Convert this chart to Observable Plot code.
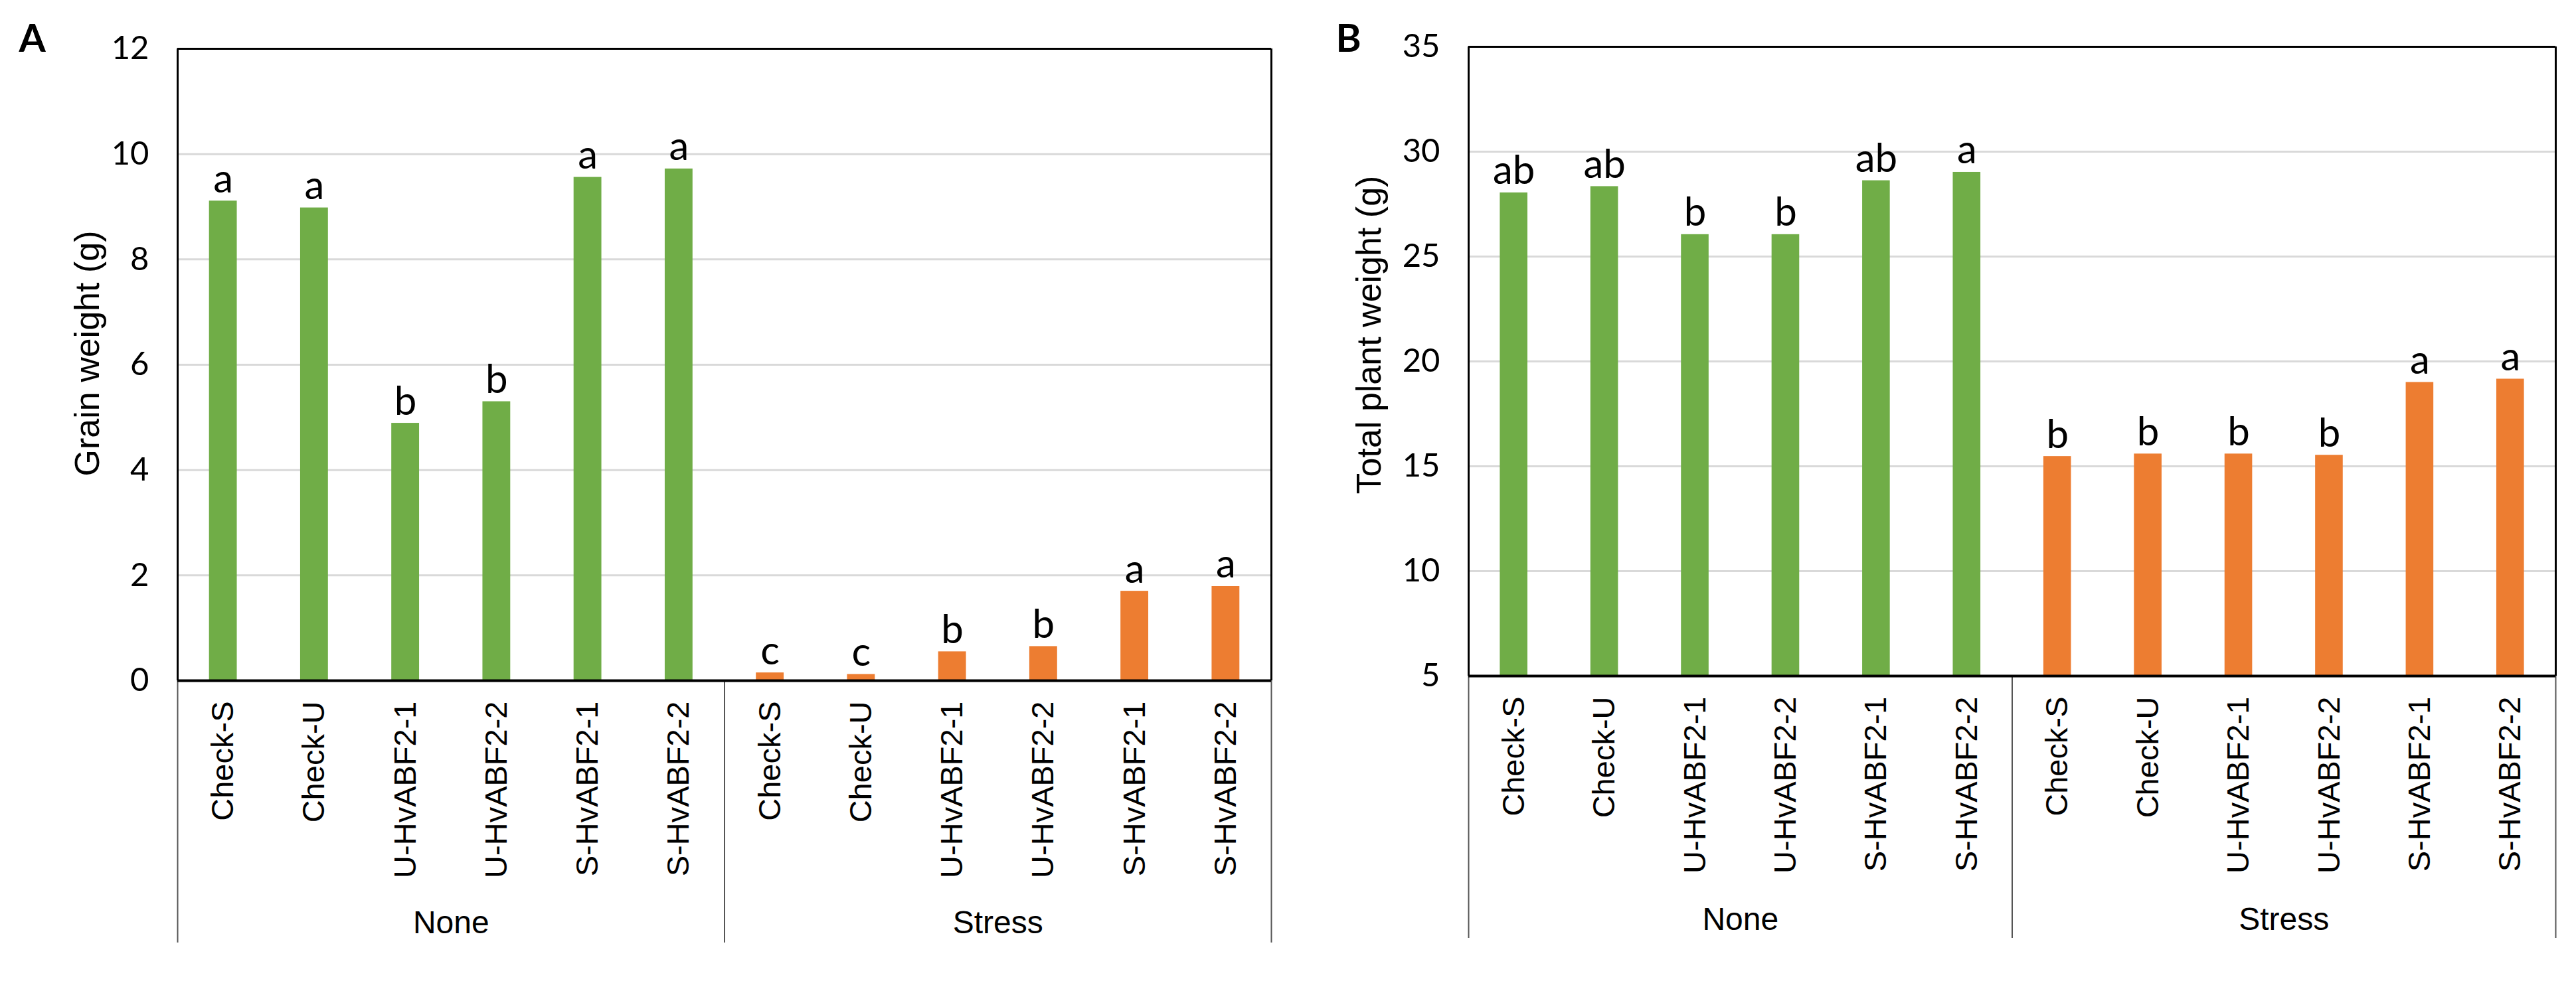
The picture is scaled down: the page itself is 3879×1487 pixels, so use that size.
<!DOCTYPE html>
<html>
<head>
<meta charset="utf-8">
<script src="https://cdn.jsdelivr.net/npm/d3@7"></script>
<script src="https://cdn.jsdelivr.net/npm/@observablehq/plot@0.6"></script>
<style>
  html, body { margin: 0; padding: 0; background: #fff; overflow: hidden; }
  #wrap { display: flex; width: 3879px; height: 1487px; }
  #wrap > div { flex: none; }
</style>
</head>
<body>
<div id="wrap"><div id="chartA"></div><div id="chartB"></div></div>
<script>
// ---- data ----
const genotypes = ["Check-S", "Check-U", "U-HvABF2-1", "U-HvABF2-2", "S-HvABF2-1", "S-HvABF2-2"];
const treatments = ["None", "Stress"];

const grainNone = [9.11, 8.98, 4.89, 5.30, 9.56, 9.72];
const grainStress = [0.15, 0.12, 0.55, 0.65, 1.70, 1.79];
const grainLettersNone = ["a", "a", "b", "b", "a", "a"];
const grainLettersStress = ["c", "c", "b", "b", "a", "a"];

const totalNone = [28.04, 28.34, 26.05, 26.05, 28.62, 29.02];
const totalStress = [15.47, 15.59, 15.59, 15.53, 19.00, 19.16];
const totalLettersNone = ["ab", "ab", "b", "b", "ab", "a"];
const totalLettersStress = ["b", "b", "b", "b", "a", "a"];

const yTicksA = [0, 2, 4, 6, 8, 10, 12];
const yTicksB = [5, 10, 15, 20, 25, 30, 35];

const colors = ["#70AD47", "#ED7D31"];

function buildRows(noneVals, stressVals, noneLetters, stressLetters) {
  const rows = [];
  treatments.forEach((t, ti) => {
    const vals = ti === 0 ? noneVals : stressVals;
    const lets = ti === 0 ? noneLetters : stressLetters;
    genotypes.forEach((g, gi) => {
      rows.push({i: ti * genotypes.length + gi, treatment: t, genotype: g, value: vals[gi], letter: lets[gi]});
    });
  });
  return rows;
}

const rowsA = buildRows(grainNone, grainStress, grainLettersNone, grainLettersStress);
const rowsB = buildRows(totalNone, totalStress, totalLettersNone, totalLettersStress);

const nBands = genotypes.length * treatments.length;
const barFrac = 0.305;

function makeChart(o) {
  const yMin = o.yTicks[0], yMax = o.yTicks[o.yTicks.length - 1];
  const bandCenters = d3.range(nBands).map(i => i + 0.5);
  const groupCenters = treatments.map((t, ti) => ({t, x: ti * genotypes.length + genotypes.length / 2}));
  const groupEdges = d3.range(treatments.length + 1).map(k => k * genotypes.length);
  return Plot.plot({
    width: o.width,
    height: 1487,
    marginLeft: o.marginLeft,
    marginRight: o.marginRight,
    marginTop: o.marginTop,
    marginBottom: o.marginBottom,
    style: {fontFamily: "'Liberation Sans', Arial, sans-serif", fontSize: "47px", background: "#fff", color: "#000"},
    x: {type: "linear", domain: [0, nBands], axis: null},
    y: {domain: [yMin, yMax], axis: null},
    color: {domain: treatments, range: colors},
    marks: [
      Plot.gridY(o.yTicks, {stroke: "#d9d9d9", strokeOpacity: 1, strokeWidth: 3}),
      Plot.rectY(o.rows, {
        x1: d => d.i + (1 - barFrac) / 2,
        x2: d => d.i + (1 + barFrac) / 2,
        y1: yMin,
        y2: "value",
        fill: "treatment"
      }),
      Plot.text(o.rows, {
        x: d => d.i + 0.5, y: "value", text: "letter",
        lineAnchor: "bottom", dy: -13,
        fontSize: 60, fontFamily: "Lato, 'Open Sans', sans-serif", fill: "#000"
      }),
      Plot.axisY(o.yTicks, {
        tickSize: 0, tickPadding: 43, label: null, tickFormat: d => String(d),
        fontSize: 49, fontFamily: "Lato, 'Open Sans', sans-serif"
      }),
      Plot.axisX(bandCenters, {
        tickSize: 0, tickPadding: 31, tickRotate: -90, label: null,
        tickFormat: d => genotypes[Math.floor(d) % genotypes.length],
        fontSize: 47
      }),
      Plot.axisX(groupEdges, {
        tickSize: 395, tickFormat: () => "", label: null,
        stroke: "#555", strokeWidth: 2
      }),
      Plot.text(groupCenters, {
        x: "x", text: "t", frameAnchor: "bottom",
        lineAnchor: "bottom", dy: o.groupDy, fontSize: 48, fill: "#000"
      }),
      Plot.ruleY([yMax], {stroke: "#000", strokeWidth: 3}),
      Plot.ruleX([0, nBands], {stroke: "#000", strokeWidth: 3}),
      Plot.ruleY([yMin], {stroke: "#000", strokeWidth: 4}),
      Plot.text([o.yLabel], {
        text: d => d, frameAnchor: "left", rotate: -90,
        textAnchor: "middle", lineAnchor: "top",
        dx: o.titleDx, dy: o.titleDy, fontSize: 52, fill: "#000"
      }),
      Plot.text([o.panel], {
        text: d => d, frameAnchor: "top-left", textAnchor: "start",
        lineAnchor: "bottom", dx: o.panelDx, dy: o.panelDy,
        fontSize: 58, fontWeight: 700, fontFamily: "Lato, 'Open Sans', sans-serif", fill: "#000"
      })
    ]
  });
}

document.getElementById("chartA").appendChild(makeChart({
  rows: rowsA, yTicks: yTicksA, yLabel: "Grain weight (g)", panel: "A",
  width: 1940, marginLeft: 267, marginRight: 26, marginTop: 73, marginBottom: 462,
  titleDx: -155, titleDy: -17, groupDy: 380, panelDx: -239, panelDy: 4
}));
document.getElementById("chartB").appendChild(makeChart({
  rows: rowsB, yTicks: yTicksB, yLabel: "Total plant weight (g)", panel: "B",
  width: 1939, marginLeft: 271, marginRight: 31, marginTop: 70, marginBottom: 469,
  titleDx: -169, titleDy: -40, groupDy: 382, panelDx: -200, panelDy: 7
}));
</script>
</body>
</html>
